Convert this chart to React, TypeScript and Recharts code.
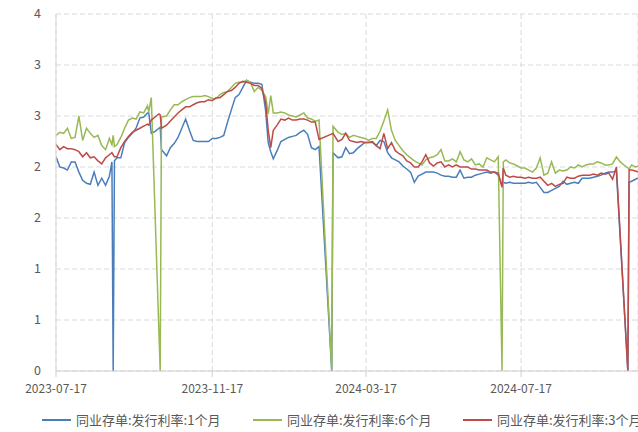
import React from 'react';
import { LineChart, Line, XAxis, YAxis, CartesianGrid, Legend } from 'recharts';

const START = '2023-07-17';
const END = '2024-10-17';
const tickDates = ['2023-07-17', '2023-11-17', '2024-03-17', '2024-07-17'];
const yTicks = [0, 0.5, 1, 1.5, 2, 2.5, 3, 3.5];

const dates = [
  '2023-07-17','2023-07-20','2023-07-23','2023-07-26','2023-07-29','2023-08-01','2023-08-04','2023-08-07','2023-08-10','2023-08-13',
  '2023-08-16','2023-08-19','2023-08-22','2023-08-25','2023-08-28','2023-08-30','2023-08-31','2023-09-01','2023-09-03','2023-09-06',
  '2023-09-09','2023-09-12','2023-09-15','2023-09-18','2023-09-21','2023-09-24','2023-09-27','2023-09-28','2023-09-30','2023-10-03',
  '2023-10-06','2023-10-07','2023-10-08','2023-10-12','2023-10-15','2023-10-18','2023-10-21','2023-10-24','2023-10-27','2023-10-30',
  '2023-11-02','2023-11-05','2023-11-08','2023-11-11','2023-11-14','2023-11-17','2023-11-20','2023-11-23','2023-11-26','2023-11-29',
  '2023-12-02','2023-12-05','2023-12-08','2023-12-11','2023-12-14','2023-12-17','2023-12-20','2023-12-23','2023-12-26','2023-12-29',
  '2023-12-31','2024-01-02','2024-01-04','2024-01-07','2024-01-10','2024-01-13','2024-01-16','2024-01-19','2024-01-22','2024-01-25',
  '2024-01-28','2024-01-31','2024-02-03','2024-02-06','2024-02-09','2024-02-19','2024-02-20','2024-02-24','2024-02-27','2024-03-01',
  '2024-03-04','2024-03-07','2024-03-10','2024-03-13','2024-03-16','2024-03-19','2024-03-22','2024-03-25','2024-03-28','2024-03-31',
  '2024-04-03','2024-04-06','2024-04-09','2024-04-12','2024-04-15','2024-04-18','2024-04-21','2024-04-24','2024-04-27','2024-04-30',
  '2024-05-03','2024-05-06','2024-05-09','2024-05-12','2024-05-15','2024-05-18','2024-05-21','2024-05-24','2024-05-27','2024-05-30',
  '2024-06-02','2024-06-05','2024-06-08','2024-06-11','2024-06-14','2024-06-17','2024-06-20','2024-06-23','2024-06-26','2024-06-29',
  '2024-07-02','2024-07-03','2024-07-05','2024-07-08','2024-07-11','2024-07-14','2024-07-17','2024-07-20','2024-07-23','2024-07-26',
  '2024-07-29','2024-08-01','2024-08-04','2024-08-07','2024-08-10','2024-08-13','2024-08-16','2024-08-19','2024-08-22','2024-08-25',
  '2024-08-28','2024-08-31','2024-09-03','2024-09-06','2024-09-09','2024-09-12','2024-09-15','2024-09-18','2024-09-21','2024-09-24',
  '2024-09-27','2024-09-30','2024-10-03','2024-10-06','2024-10-09','2024-10-10','2024-10-12','2024-10-15','2024-10-17',
];

const rate1M: (number | null)[] = [
  2.10,2.00,1.99,1.97,2.05,2.05,1.95,1.87,1.84,1.83,
  1.95,1.82,1.89,1.82,1.91,2.05,0,2.06,2.09,2.09,
  2.24,2.29,2.33,2.38,2.48,2.49,2.53,2.53,2.33,2.35,
  2.38,2.39,2.17,2.11,2.19,2.23,2.29,2.38,2.47,2.36,
  2.26,2.25,2.25,2.25,2.25,2.28,2.28,2.29,2.31,2.44,
  2.56,2.68,2.71,2.78,2.85,2.83,2.82,2.82,2.81,2.55,
  2.24,2.15,2.08,2.16,2.25,2.27,2.29,2.30,2.31,2.34,
  2.36,2.32,2.19,2.17,2.20,0,2.14,2.09,2.10,2.19,
  2.13,2.14,2.18,2.21,2.24,2.24,2.24,2.21,2.26,2.25,
  2.14,2.09,2.07,2.05,2.01,1.98,1.95,1.85,1.91,1.93,
  1.95,1.95,1.95,1.94,1.92,1.91,1.91,1.90,1.90,1.97,
  1.89,1.90,1.90,1.92,1.93,1.94,1.95,1.94,1.95,1.92,
  1.82,1.85,1.84,1.85,1.84,1.84,1.84,1.84,1.85,1.84,
  1.85,1.80,1.75,1.75,1.77,1.79,1.81,1.86,1.83,1.84,
  1.85,1.84,1.89,1.89,1.89,1.90,1.91,1.92,1.94,1.95,
  1.95,1.96,null,null,0,1.85,1.86,1.88,1.89,
];

const rate6M: (number | null)[] = [
  2.31,2.34,2.33,2.38,2.28,2.29,2.50,2.26,2.38,2.33,
  2.29,2.31,2.21,2.17,2.28,2.22,2.31,2.20,2.22,2.29,
  2.38,2.46,2.48,2.47,2.54,2.53,2.60,2.54,2.68,null,
  null,0,2.49,2.50,2.56,2.61,2.61,2.64,2.66,2.68,
  2.69,2.69,2.69,2.70,2.69,2.67,2.67,2.71,2.73,2.74,
  2.78,2.82,2.83,2.83,2.85,2.83,2.74,2.78,2.75,2.69,
  2.52,2.70,2.53,2.53,2.54,2.53,2.51,2.50,2.49,2.51,
  2.53,2.48,2.47,2.45,2.46,0,2.40,2.34,2.32,2.33,
  2.29,2.31,2.30,2.29,2.28,2.26,2.28,2.28,2.35,2.45,
  2.56,2.36,2.26,2.21,2.16,2.12,2.09,2.06,2.04,2.02,
  2.07,2.09,2.10,2.12,2.17,2.06,2.06,2.08,2.05,2.15,
  2.07,2.05,2.08,2.02,2.03,2.00,2.09,2.07,2.05,2.10,
  0,2.05,2.07,2.04,2.03,2.01,1.99,1.99,1.97,1.95,
  1.99,2.09,1.92,1.94,2.05,1.94,1.97,1.96,1.97,2.00,
  1.99,2.02,2.00,2.02,2.03,2.03,2.05,2.04,2.02,2.02,
  2.03,2.10,2.05,2.02,1.99,1.98,2.02,2.00,2.01,
];

const rate3M: (number | null)[] = [
  2.22,2.17,2.20,2.18,2.18,2.17,2.15,2.10,2.14,2.09,
  2.10,2.06,2.03,2.09,2.12,2.14,2.12,2.10,2.10,2.19,
  2.25,2.30,2.34,2.36,2.38,2.40,2.42,2.41,2.46,2.49,
  2.52,2.51,2.38,2.41,2.45,2.49,2.53,2.56,2.59,2.59,
  2.61,2.63,2.64,2.64,2.66,2.65,2.68,2.68,2.71,2.74,
  2.75,2.78,2.82,2.84,2.83,2.82,2.80,2.80,2.77,2.63,
  2.36,2.19,2.36,2.41,2.47,2.46,2.48,2.46,2.46,2.47,
  2.47,2.46,2.44,2.44,2.27,null,2.33,2.25,2.27,2.33,
  2.26,2.25,2.24,2.25,2.24,2.24,2.25,2.21,2.18,2.33,
  2.18,2.24,2.16,2.13,2.11,2.06,2.04,2.00,2.00,2.05,
  2.12,2.04,2.01,2.04,2.05,2.00,2.02,2.00,2.02,2.00,
  2.00,2.00,1.98,1.98,1.97,1.97,1.97,1.95,1.95,1.94,
  1.80,1.99,1.92,1.90,1.91,1.90,1.90,1.89,1.90,1.89,
  1.89,1.90,1.86,1.82,1.84,1.81,1.83,1.84,1.90,1.89,
  1.89,1.91,1.92,1.92,1.92,1.93,1.92,1.94,1.93,1.94,
  1.88,2.00,null,null,0,1.97,1.97,1.96,1.95,
];

const seriesNames = ['同业存单:发行利率:1个月', '同业存单:发行利率:6个月', '同业存单:发行利率:3个月'];
const seriesKeys = ['m1', 'm6', 'm3'];
const seriesColors = ['#4A7EBB', '#98B954', '#BE4B48'];

const DAY = 86400000;
const dayOf = (s: string) => Math.round((Date.parse(s) - Date.parse(START)) / DAY);
const rows = dates.map((s, i) => ({ d: dayOf(s), m1: rate1M[i], m6: rate6M[i], m3: rate3M[i] }));
const xTicks = tickDates.map(dayOf);
const xLabel = (v: number) => {
  const i = xTicks.indexOf(v);
  return i >= 0 ? tickDates[i] : '';
};

const FONT = '"Noto Sans CJK SC", "Noto Sans", sans-serif';
const legendLeft = [42, 253, 463];

const LegendContent = () => (
  <div style={{ position: 'relative', width: 700, height: 25, fontFamily: FONT, fontSize: 13, color: '#595959' }}>
    {seriesNames.map((n, i) => (
      <div key={n} style={{ position: 'absolute', left: legendLeft[i], top: 0, height: 25, display: 'flex', alignItems: 'center', whiteSpace: 'nowrap' }}>
        <span style={{ display: 'inline-block', width: 29, height: 0, borderTop: `2px solid ${seriesColors[i]}`, marginRight: 5 }} />
        <span>{n}</span>
      </div>
    ))}
  </div>
);

export default function App() {
  return (
    <div style={{ position: 'fixed', left: 0, top: 0, width: 638, height: 432, overflow: 'hidden', background: '#fff' }}>
      <LineChart width={700} height={432} data={rows} margin={{ top: 14, right: 62, bottom: 0, left: 0 }}>
        <CartesianGrid stroke="#D9D9D9" strokeDasharray="5 3" />
        <XAxis
          dataKey="d"
          type="number"
          domain={[0, dayOf(END)]}
          ticks={xTicks}
          tickFormatter={xLabel}
          height={36}
          tickSize={6}
          tickMargin={7}
          stroke="#D0D0D0"
          tick={{ fill: '#595959', fontSize: 12, fontFamily: FONT }}
          allowDataOverflow
        />
        <YAxis
          type="number"
          domain={[0, 3.5]}
          ticks={yTicks}
          tickFormatter={(v: number) => String(Math.round(v))}
          width={56}
          tickSize={0}
          tickMargin={15}
          tickLine={false}
          stroke="#D9D9D9"
          tick={{ fill: '#595959', fontSize: 12.5, fontFamily: FONT }}
          interval={0}
        />
        <Legend verticalAlign="bottom" content={<LegendContent />} wrapperStyle={{ left: 0, width: 700, height: 25 }} />
        {seriesKeys.map((k, i) => (
          <Line
            key={k}
            type="linear"
            dataKey={k}
            name={seriesNames[i]}
            stroke={seriesColors[i]}
            strokeWidth={1.5}
            dot={false}
            activeDot={false}
            connectNulls
            isAnimationActive={false}
          />
        ))}
      </LineChart>
    </div>
  );
}
